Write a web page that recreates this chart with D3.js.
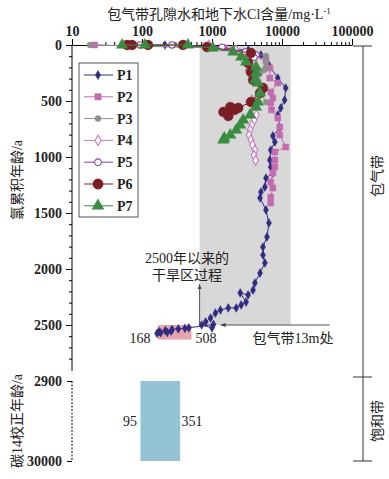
<!DOCTYPE html>
<html>
<head>
<meta charset="utf-8">
<script src="https://cdn.jsdelivr.net/npm/d3@7"></script>
<style>
body { margin: 0; background: #fff; }
text { font-family: "Liberation Serif", "DejaVu Serif", "Noto Sans CJK SC", serif; fill: #222; }
</style>
</head>
<body>
<svg width="389" height="479"></svg>
<script>
// [age (a), Cl (mg/L)]
const p1 = [[0,213],[18,900],[45,3300],[89,5000],[180,6500],[295,8700],[384,11300],[491,10900],[562,9600],[625,8700],[741,9300],[812,7400],[866,7900],[938,6900],[1027,6700],[1089,6900],[1143,7400],[1188,5900],[1268,5700],[1313,5000],[1366,4850],[1473,5900],[1589,6500],[1714,6100],[1804,5350],[1875,5350],[1946,5700],[2036,4850],[2125,4100],[2188,3860],[2232,3280],[2214,2530],[2295,3070],[2321,2610],[2348,2220],[2348,1711],[2366,1319],[2393,1120],[2438,953],[2473,810],[2500,711],[2525,1000],[2495,1050],[2525,466],[2530,410],[2535,330],[2540,270],[2555,260],[2550,215],[2565,230],[2560,175],[2570,185],[2575,164]];
const p2 = [[0,21],[25,1500],[80,3300],[134,5900],[205,6700],[295,6700],[339,8700],[420,6900],[473,7400],[518,6900],[580,7100],[652,8700],[732,9300],[804,9300],[911,11300],[955,7900],[1027,7900],[1089,7900],[1143,7400],[1223,6900],[1277,7400],[1357,6900],[1411,6900]];
const p3 = [[0,18],[30,2000],[98,5900],[152,5900],[196,5900],[223,5600],[250,4850],[330,4500],[420,4850],[509,5900]];
const p4 = [[0,900],[45,2200],[134,2800],[223,3300],[312,4500],[402,5300],[465,4500],[491,3700],[580,4000],[625,4300],[670,4000],[714,3700],[759,3500],[804,3400],[848,3600],[893,3800],[938,4100],[985,4000],[1030,4200]];
const p5 = [[0,94],[0,268],[20,1390],[60,3000],[89,4259],[110,4000]];
const p6 = [[0,61],[0,72],[0,122],[0,385],[18,850],[71,3600],[161,3280],[241,3600],[312,3860],[384,5350],[429,4850],[509,3600],[562,2370],[554,1825],[598,1454],[634,1711],[580,2100]];
const p7 = [[0,52],[0,110],[0,452],[27,1030],[62,2013],[107,2612],[152,3074],[196,4259],[250,4259],[312,4100],[339,4544],[429,4849],[509,4544],[554,4259],[625,3500],[670,2787],[714,2529],[759,2219],[804,1825],[830,1500],[848,1454]];

const names = ["P1","P2","P3","P4","P5","P6","P7"];
const colors = ["#2f2c80","#c26bb0","#8e8e8e","#c77bc1","#8a3f9c","#7a1d24","#3b8b41"];
const shapes = [d3.symbolDiamond, d3.symbolSquare, d3.symbolCircle, d3.symbolDiamond, d3.symbolCircle, d3.symbolCircle, d3.symbolTriangle];
const sizes = [22, 36, 26, 28, 32, 75, 55];
const hollow = [false, false, false, true, true, false, false];
const series = [p1, p2, p3, p4, p5, p6, p7];

const xTicks = [10, 100, 1000, 10000, 100000];
const yTicks = [0, 500, 1000, 1500, 2000, 2500];
const yLowTicks = [2900, 30000];

const grayBand = [665, 13300];   // Cl range of shaded zone, 0-2500 a
const pinkBox = [168, 508];      // Cl at 13 m
const blueBox = [95, 351];       // groundwater Cl

const svg = d3.select("svg");

const x = d3.scaleLog().domain([10, 100000]).range([72, 352]);
const y = d3.scaleLinear().domain([0, 2500]).range([45, 325]);
const yLow = d3.scaleLinear().domain([2900, 30000]).range([381, 461]);

// shaded boxes
svg.append("rect")
	.attr("x", x(grayBand[0]))
	.attr("y", y(0))
	.attr("width", x(grayBand[1]) - x(grayBand[0]))
	.attr("height", y(2500) - y(0))
	.attr("fill", "#d8d8d8");

svg.append("rect")
	.attr("x", x(pinkBox[0]))
	.attr("y", y(2500))
	.attr("width", x(pinkBox[1]) - x(pinkBox[0]))
	.attr("height", y(2630) - y(2500))
	.attr("fill", "#e9a3ad");

svg.append("rect")
	.attr("x", x(blueBox[0]))
	.attr("y", yLow(2900))
	.attr("width", x(blueBox[1]) - x(blueBox[0]))
	.attr("height", yLow(30000) - yLow(2900))
	.attr("fill", "#94c3d3");

// arrows
svg.append("defs").append("marker")
	.attr("id", "arr")
	.attr("viewBox", "0 -5 10 10")
	.attr("refX", 10)
	.attr("refY", 0)
	.attr("markerWidth", 5)
	.attr("markerHeight", 5)
	.attr("orient", "auto")
	.append("path")
	.attr("d", "M0,-4L10,0L0,4")
	.attr("fill", "#444");

svg.append("line")
	.attr("x1", x(grayBand[0])).attr("x2", x(grayBand[0]))
	.attr("y1", y(2500)).attr("y2", y(2135))
	.attr("stroke", "#555").attr("stroke-width", 1)
	.attr("marker-end", "url(#arr)");

svg.append("line")
	.attr("x1", x(48000)).attr("x2", x(1330))
	.attr("y1", y(2500)).attr("y2", y(2500))
	.attr("stroke", "#555").attr("stroke-width", 1)
	.attr("marker-end", "url(#arr)");

// axes
const xMinor = [];
for (let d = 10; d < 100000; d *= 10) for (let k = 2; k < 10; k++) xMinor.push(d * k);

svg.append("g")
	.attr("transform", "translate(0,45)")
	.call(d3.axisTop(x).tickValues(xMinor).tickSize(3).tickFormat(""))
	.call(g => g.select(".domain").remove());

svg.append("g")
	.attr("transform", "translate(0,45)")
	.call(d3.axisTop(x).tickValues(xTicks).tickSize(6).tickSizeOuter(0).tickPadding(3).tickFormat(d3.format("d")))
	.call(g => g.selectAll("text").attr("font-size", 14).attr("font-weight", "bold").attr("fill", "#222"));

const yMinor = d3.range(0, 2900, 100);
svg.append("g")
	.attr("transform", "translate(72,0)")
	.call(d3.axisLeft(y).tickValues(yMinor).tickSize(3).tickFormat(""))
	.call(g => g.select(".domain").remove());

svg.append("g")
	.attr("transform", "translate(72,0)")
	.call(d3.axisLeft(y).tickValues(yTicks).tickSize(6).tickPadding(4).tickFormat(d3.format("d")))
	.call(g => g.select(".domain").remove())
	.call(g => g.selectAll("text").attr("font-size", 14).attr("font-weight", "bold").attr("fill", "#222"));

svg.append("line")
	.attr("x1", 72).attr("x2", 72)
	.attr("y1", 45).attr("y2", 371)
	.attr("stroke", "#000");

svg.append("g")
	.attr("transform", "translate(72,0)")
	.call(d3.axisLeft(yLow).tickValues(yLowTicks).tickSize(5).tickPadding(5).tickFormat(d3.format("d")))
	.call(g => g.select(".domain").remove())
	.call(g => g.selectAll("text").attr("font-size", 14).attr("font-weight", "bold").attr("fill", "#222"));

svg.append("line")
	.attr("x1", 72).attr("x2", 72)
	.attr("y1", yLow(2900)).attr("y2", yLow(30000))
	.attr("stroke", "#000")
	.attr("stroke-dasharray", "2,1.5");

// series
const line = d3.line()
	.x(d => x(d[1]))
	.y(d => y(d[0]));

series.forEach((data, i) => {
	const g = svg.append("g");
	g.append("path")
		.attr("d", line(data))
		.attr("fill", "none")
		.attr("stroke", colors[i])
		.attr("stroke-width", 1);
	g.selectAll("path.pt")
		.data(data)
		.join("path")
		.attr("class", "pt")
		.attr("transform", d => `translate(${x(d[1])},${y(d[0])})`)
		.attr("d", d3.symbol().type(shapes[i]).size(sizes[i]))
		.attr("fill", hollow[i] ? "#fff" : colors[i])
		.attr("stroke", colors[i])
		.attr("stroke-width", hollow[i] ? 1.1 : 0.5);
});

// legend
const legend = svg.append("g");
legend.append("rect")
	.attr("x", 79).attr("y", 63)
	.attr("width", 59).attr("height", 154)
	.attr("fill", "#fff")
	.attr("stroke", "#555");

names.forEach((n, i) => {
	const ly = 75 + i * 21.8;
	legend.append("line")
		.attr("x1", 84).attr("x2", 113)
		.attr("y1", ly).attr("y2", ly)
		.attr("stroke", colors[i]);
	legend.append("path")
		.attr("transform", `translate(98,${ly})`)
		.attr("d", d3.symbol().type(shapes[i]).size(sizes[i] * 1.1))
		.attr("fill", hollow[i] ? "#fff" : colors[i])
		.attr("stroke", colors[i])
		.attr("stroke-width", hollow[i] ? 1.1 : 0.5);
	legend.append("text")
		.attr("x", 117).attr("y", ly + 5)
		.attr("font-size", 14)
		.attr("font-weight", "bold")
		.text(n);
});

// titles
const title = svg.append("text")
	.attr("x", 219).attr("y", 19)
	.attr("text-anchor", "middle")
	.attr("font-size", 14)
	.text("包气带孔隙水和地下水Cl含量/mg·L");
title.append("tspan").attr("dy", -5).attr("font-size", 9).text("-1");

svg.append("text")
	.attr("transform", "translate(22,180) rotate(-90)")
	.attr("text-anchor", "middle")
	.attr("font-size", 14)
	.text("氯累积年龄/a");

svg.append("text")
	.attr("transform", "translate(22,421) rotate(-90)")
	.attr("text-anchor", "middle")
	.attr("font-size", 14)
	.text("碳14校正年龄/a");

// annotations
const notes = [
	["2500年以来的", 187, 263],
	["干旱区过程", 187, 280],
	["包气带13m处", 293, 343],
	["168", 140, 343],
	["508", 206, 343],
	["95", 130, 426],
	["351", 192, 426]
];
notes.forEach(([t, tx, ty]) => {
	svg.append("text")
		.attr("x", tx).attr("y", ty)
		.attr("text-anchor", "middle")
		.attr("font-size", 14)
		.text(t);
});

// zone bracket on the right
const br = svg.append("g").attr("stroke", "#333");
br.append("line").attr("x1", 363).attr("x2", 363).attr("y1", 46).attr("y2", 461);
[46, 377, 461].forEach(v => {
	br.append("line").attr("x1", 353).attr("x2", 372).attr("y1", v).attr("y2", v);
});

svg.append("text")
	.attr("transform", "translate(382,176) rotate(-90)")
	.attr("text-anchor", "middle")
	.attr("font-size", 14)
	.text("包气带");

svg.append("text")
	.attr("transform", "translate(382,421) rotate(-90)")
	.attr("text-anchor", "middle")
	.attr("font-size", 14)
	.text("饱和带");
</script>
</body>
</html>
